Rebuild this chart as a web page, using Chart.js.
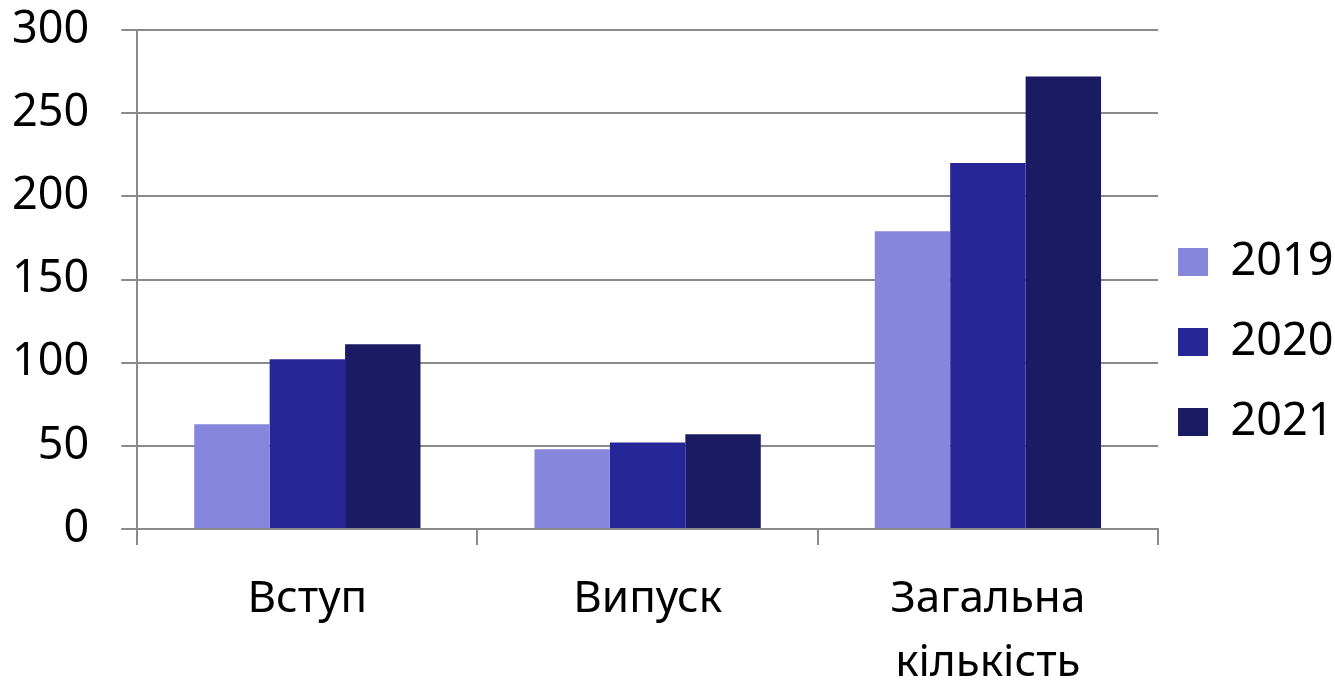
<!DOCTYPE html>
<html>
<head>
<meta charset="utf-8">
<script src="https://cdn.jsdelivr.net/npm/chart.js@4/dist/chart.umd.min.js"></script>
<style>
  html, body { margin: 0; padding: 0; background: #fff; overflow: hidden; }
  #wrap { width: 1335px; height: 682px; }
</style>
</head>
<body>
<div id="wrap"><canvas id="chart"></canvas></div>
<script>
const categories = ['Вступ', 'Випуск', ['Загальна', 'кількість']];
const years = ['2019', '2020', '2021'];
const values2019 = [63, 48, 179];
const values2020 = [102, 52, 220];
const values2021 = [111, 57, 272];
const yTicks = { min: 0, max: 300, step: 50 };

const colors = ['#8686dd', '#262696', '#1b1b63'];
const gridColor = '#8a8a8a';

const ctx = document.getElementById('chart').getContext('2d');
new Chart(ctx, {
  type: 'bar',
  data: {
    labels: categories,
    datasets: [values2019, values2020, values2021].map((d, i) => ({
      label: years[i],
      data: d,
      backgroundColor: colors[i],
      borderWidth: 0,
      barPercentage: 1.0,
      categoryPercentage: 0.665
    }))
  },
  options: {
    responsive: true,
    maintainAspectRatio: false,
    animation: false,
    layout: { padding: { left: 12, right: -8.5, top: 4, bottom: -13 } },
    plugins: {
      tooltip: { enabled: false },
      legend: {
        position: 'right',
        labels: {
          color: '#000',
          font: { family: 'Noto Sans', size: 45, lineHeight: 1.333 },
          boxWidth: 30,
          boxHeight: 28,
          padding: 20,
          generateLabels: (chart) => chart.data.datasets.map((ds, i) => ({
            text: [ds.label],
            fillStyle: ds.backgroundColor,
            strokeStyle: ds.backgroundColor,
            lineWidth: 0,
            hidden: false,
            datasetIndex: i
          }))
        }
      }
    },
    scales: {
      x: {
        grid: {
          display: true,
          offset: true,
          drawOnChartArea: false,
          drawTicks: true,
          tickLength: 16,
          color: gridColor,
          lineWidth: 2
        },
        border: { display: true, color: gridColor, width: 2 },
        ticks: {
          color: '#000',
          padding: 22,
          maxRotation: 0,
          autoSkip: false,
          font: { family: 'Noto Sans', size: 44, lineHeight: 1.4545 }
        },
        // chart.js counts the tick padding twice; drop the outer copy
        afterFit: (scale) => { scale.height -= 22; }
      },
      y: {
        min: yTicks.min,
        max: yTicks.max,
        grid: {
          color: gridColor,
          lineWidth: 2,
          tickLength: 16,
          drawTicks: true
        },
        border: { display: true, color: gridColor, width: 2 },
        ticks: {
          stepSize: yTicks.step,
          color: '#000',
          padding: 32,
          font: { family: 'Noto Sans', size: 45, lineHeight: 1.333 }
        },
        afterFit: (scale) => {
          scale.width -= 32;
          scale.paddingTop = 30;
          scale.paddingBottom = 30;
        }
      }
    }
  }
});
</script>
</body>
</html>
